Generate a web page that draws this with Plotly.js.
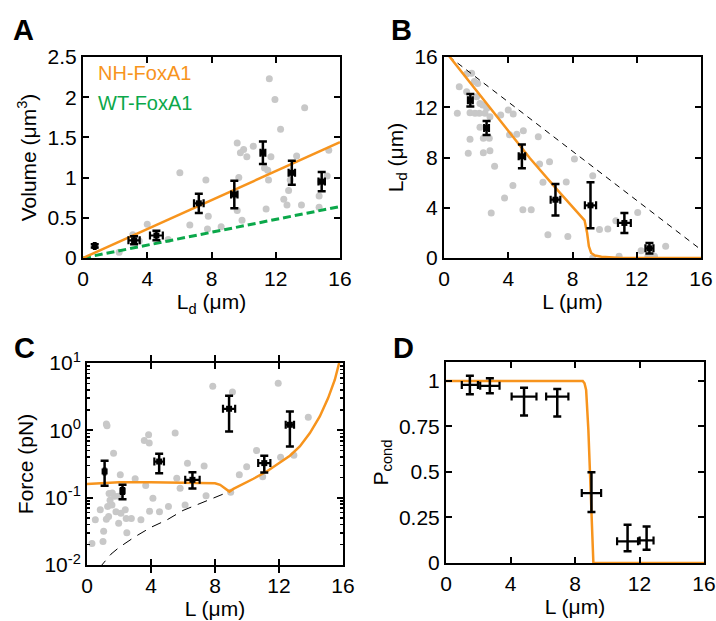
<!DOCTYPE html>
<html><head><meta charset="utf-8">
<script src="https://cdn.plot.ly/plotly-3.0.1.min.js"></script>
<style>html,body{margin:0;padding:0;background:#fff}#chart{width:716px;height:621px}</style>
</head><body><div id="chart"></div>
<script>
// ---------- Panel A: Volume vs Ld ----------
const aGrayX = [11.6, 11.95, 13.8, 12.3, 9.6, 10.0, 10.6, 9.8, 10.2, 11.7, 13.3, 15.3, 6.03, 7.65, 9.7, 11.3, 11.55, 11.4, 12.5, 12.8, 12.7, 13.6, 14.7, 14.7, 14.8, 15.2, 9.6, 7.8, 6.65, 7.75, 8.6, 9.9, 4.0, 3.1, 3.5, 2.25, 5.3, 12.9, 11.5];
const aGrayY = [2.23, 1.97, 1.87, 1.60, 1.43, 1.35, 1.39, 1.31, 1.26, 1.26, 1.27, 1.34, 1.06, 0.97, 1.00, 1.12, 0.97, 0.61, 0.73, 0.84, 0.66, 0.66, 0.63, 0.77, 0.95, 1.02, 0.59, 0.52, 0.41, 0.36, 0.39, 0.47, 0.42, 0.29, 0.21, 0.07, 0.23, 0.97, 1.09];
const aErrX = [0.73, 3.18, 4.57, 7.21, 9.42, 11.2, 13.0, 14.86];
const aErrXe = [0.05, 0.35, 0.4, 0.3, 0.2, 0.15, 0.2, 0.2];
const aErrY = [0.15, 0.22, 0.28, 0.68, 0.79, 1.31, 1.06, 0.95];
const aErrYe = [0.02, 0.05, 0.06, 0.12, 0.17, 0.14, 0.15, 0.12];
const aNHX = [0, 16], aNHY = [0, 1.44];
const aWTX = [0, 16], aWTY = [0, 0.64];

// ---------- Panel B: Ld vs L ----------
const bGrayX = [1.41, 1.72, 1.89, 2.10, 0.95, 1.41, 2.03, 2.24, 2.41, 2.66, 2.55, 0.83, 1.62, 1.93, 2.20, 2.86, 2.24, 3.53, 4.00, 4.31, 1.62, 2.45, 2.82, 4.94, 5.87, 1.51, 2.45, 2.86, 4.53, 3.15, 2.94, 4.08, 3.77, 4.29, 4.91, 5.43, 5.95, 6.16, 6.57, 6.47, 7.61, 7.71, 8.12, 9.26, 9.26, 9.68, 10.2, 10.7, 10.9, 12.06, 12.27, 12.7, 13.1, 13.8];
const bGrayY = [14.65, 14.7, 14.04, 13.9, 13.64, 13.24, 12.84, 12.3, 12.18, 11.92, 11.52, 11.52, 11.57, 11.52, 11.52, 11.25, 10.41, 11.39, 11.78, 11.47, 9.45, 9.53, 9.53, 10.13, 9.66, 8.34, 8.38, 8.54, 9.85, 7.30, 3.58, 9.82, 4.78, 5.78, 3.85, 3.85, 7.48, 6.02, 7.67, 1.86, 6.05, 1.72, 7.88, 6.55, 0.0, 2.26, 2.31, 2.97, 0.13, 3.63, 0.58, 0.13, 0.13, 0.93];
const bErrX = [1.64, 2.65, 4.85, 6.94, 9.12, 11.23, 12.79];
const bErrXe = [0.15, 0.15, 0.2, 0.3, 0.35, 0.4, 0.25];
const bErrY = [12.55, 10.35, 8.09, 4.64, 4.19, 2.79, 0.77];
const bErrYe = [0.5, 0.55, 0.95, 1.25, 1.83, 0.8, 0.42];
const bFitX = [0.3, 2, 4, 5.35, 7, 8.5, 8.75, 8.91, 9.02, 9.16, 9.4, 9.8, 10.4, 11, 16];
const bFitY = [16.1, 13.36, 10.12, 7.94, 5.5, 3.3, 3.0, 1.99, 0.93, 0.40, 0.2, 0.1, 0.04, 0, 0];
const bDashX = [0.3, 16], bDashY = [16.05, 0.66];

// ---------- Panel C: Force vs L ----------
const cGrayX = [1.21, 1.25, 0.31, 0.52, 0.83, 1.04, 1.0, 1.21, 1.29, 1.35, 1.66, 1.73, 1.56, 1.98, 1.81, 2.08, 2.12, 1.98, 2.39, 2.45, 2.49, 2.77, 3.01, 3.37, 3.58, 3.85, 3.89, 4.12, 3.91, 4.53, 5.09, 5.51, 5.61, 6.13, 5.82, 6.28, 7.32, 7.44, 7.86, 9.09, 8.98, 9.52, 9.98, 10.6, 10.98, 11.95, 12.1, 12.93, 13.83, 3.67, 1.38, 1.58, 1.44];
const cGrayY = [1.24, 1.17, 0.0209, 0.0468, 0.0661, 0.0316, 0.0224, 0.0479, 0.0741, 0.0525, 0.458, 0.105, 0.0776, 0.105, 0.0617, 0.219, 0.0589, 0.0417, 0.0661, 0.049, 0.0302, 0.049, 0.191, 0.0468, 0.708, 0.859, 0.646, 0.0977, 0.0631, 0.0617, 0.0741, 0.910, 0.195, 0.0776, 0.138, 0.324, 0.295, 0.107, 4.50, 3.71, 0.120, 0.219, 0.288, 0.501, 0.204, 5.01, 0.398, 0.427, 1.57, 0.151, 0.115, 0.117, 0.0912];
const cErrX = [1.10, 2.22, 4.51, 6.59, 8.88, 11.08, 12.68];
const cErrXe = [0.05, 0.1, 0.3, 0.45, 0.38, 0.38, 0.26];
const cErrY = [0.245, 0.126, 0.344, 0.184, 2.09, 0.326, 1.21];
const cErrYp = [0.107, 0.029, 0.104, 0.055, 1.18, 0.093, 0.70];
const cErrYm = [0.095, 0.031, 0.113, 0.047, 1.13, 0.089, 0.633];
const cFitX = [0, 2, 4, 6, 8, 8.32, 8.63, 8.9, 9.15, 9.56, 10.4, 11.23, 11.85, 12.68, 13.3, 13.93, 14.55, 15.07, 15.49, 15.76];
const cFitY = [0.160, 0.170, 0.170, 0.168, 0.164, 0.155, 0.138, 0.123, 0.135, 0.151, 0.191, 0.245, 0.308, 0.419, 0.577, 0.910, 1.61, 3.01, 5.65, 10.0];
const cDashX = [0.75, 1, 1.5, 2, 3, 4, 5, 6, 7, 8, 9];
const cDashY = [0.0089, 0.0105, 0.0145, 0.0182, 0.0263, 0.0363, 0.0468, 0.0646, 0.0813, 0.102, 0.126];
const cMinorTicks = [0.02,0.03,0.04,0.05,0.06,0.07,0.08,0.09,0.2,0.3,0.4,0.5,0.6,0.7,0.8,0.9,2,3,4,5,6,7,8,9];

// ---------- Panel D: Pcond vs L ----------
const dErrX = [1.48, 2.72, 4.84, 6.9, 9.02, 11.26, 12.44];
const dErrXe = [0.5, 0.6, 0.77, 0.69, 0.6, 0.65, 0.43];
const dErrY = [0.978, 0.973, 0.914, 0.914, 0.384, 0.119, 0.124];
const dErrYp = [0.051, 0.042, 0.049, 0.042, 0.115, 0.091, 0.077];
const dErrYm = [0.051, 0.041, 0.104, 0.11, 0.104, 0.055, 0.051];
const dFitX = [0, 8.48, 8.59, 8.69, 8.83, 8.96, 9.06, 9.14, 16];
const dFitY = [1, 1, 0.987, 0.95, 0.73, 0.457, 0.183, 0, 0];

const ORANGE = '#F7941D', GREEN = '#0BA84A', GRAY = '#C8C8C8';
const FONT = 'Liberation Sans, Arial, Helvetica, sans-serif';
const FS = 21;

function gray(x, y, xa, ya) {
  return {x, y, xaxis: xa, yaxis: ya, type: 'scatter', mode: 'markers',
    marker: {color: GRAY, size: 7, line: {width: 0}}, hoverinfo: 'skip'};
}
function errs(x, y, xe, yp, ym, xa, ya, showMarker) {
  return {x, y, xaxis: xa, yaxis: ya, type: 'scatter', mode: 'markers',
    marker: {color: 'black', symbol: 'square', size: showMarker ? 6 : 1, opacity: showMarker ? 1 : 0},
    error_x: {type: 'data', array: xe, color: 'black', thickness: 2.2, width: 4},
    error_y: {type: 'data', array: yp, arrayminus: ym, symmetric: false, color: 'black', thickness: 2.5, width: 4}};
}
function line(x, y, xa, ya, color, width, dash) {
  return {x, y, xaxis: xa, yaxis: ya, type: 'scatter', mode: 'lines',
    line: {color, width, dash: dash || 'solid'}, hoverinfo: 'skip'};
}

const traces = [
  gray(aGrayX, aGrayY, 'x', 'y'),
  line(aWTX, aWTY, 'x', 'y', GREEN, 3, '8px,4px'),
  line(aNHX, aNHY, 'x', 'y', ORANGE, 2.5),
  errs(aErrX, aErrY, aErrXe, aErrYe, aErrYe, 'x', 'y', true),

  gray(bGrayX, bGrayY, 'x2', 'y2'),
  line(bDashX, bDashY, 'x2', 'y2', 'black', 1, '6px,5px'),
  line(bFitX, bFitY, 'x2', 'y2', ORANGE, 2.5),
  errs(bErrX, bErrY, bErrXe, bErrYe, bErrYe, 'x2', 'y2', true),

  gray(cGrayX, cGrayY, 'x3', 'y3'),
  line(cDashX, cDashY, 'x3', 'y3', 'black', 1, '10px,7px'),
  line(cFitX, cFitY, 'x3', 'y3', ORANGE, 2.5),
  errs(cErrX, cErrY, cErrXe, cErrYp, cErrYm, 'x3', 'y3', true),

  line(dFitX, dFitY, 'x4', 'y4', ORANGE, 2.5),
  errs(dErrX, dErrY, dErrXe, dErrYp, dErrYm, 'x4', 'y4', false)
];

const W = 716, H = 621;
const dx = (a, b) => [a / W, b / W];
const dy = (top, bot) => [1 - bot / H, 1 - top / H];

const baseAxis = {
  showline: true, linecolor: 'black', linewidth: 2, mirror: 'allticks',
  ticks: 'inside', ticklen: 6, tickwidth: 2, tickcolor: 'black',
  showgrid: false, zeroline: false, automargin: false, ticklabeloverflow: 'allow',
  tickfont: {family: FONT, size: FS, color: 'black'}
};
function xax(domain, anchor, title, range, tickvals) {
  return Object.assign({}, baseAxis, {domain, anchor, range, tickmode: 'array', tickvals,
    ticklabelstandoff: 1,
    title: {text: title, font: {family: FONT, size: FS, color: 'black'}, standoff: 2}});
}
function yax(domain, anchor, title, range, tickvals, extra) {
  return Object.assign({}, baseAxis, {domain, anchor, range, tickmode: 'array', tickvals,
    title: {text: title, font: {family: FONT, size: FS, color: 'black'}, standoff: 5}}, extra || {});
}
function label(text, px, py, size, color, xanchor) {
  return {text, x: px / W, y: 1 - py / H, xref: 'paper', yref: 'paper', showarrow: false,
    xanchor: xanchor || 'center', yanchor: 'middle', font: {family: FONT, size, color}};
}

const layout = {
  width: W, height: H, margin: {l: 0, r: 0, t: 0, b: 0},
  paper_bgcolor: 'white', plot_bgcolor: 'white', showlegend: false,
  font: {family: FONT, color: 'black'},
  xaxis: xax(dx(83, 340), 'y', 'L<sub>d</sub> (μm)', [0, 16], [0, 4, 8, 12, 16]),
  yaxis: yax(dy(57, 258), 'x', 'Volume (μm<sup>3</sup>)', [0, 2.5], [0, 0.5, 1, 1.5, 2, 2.5]),
  xaxis2: xax(dx(444, 701), 'y2', 'L (μm)', [0, 16], [0, 4, 8, 12, 16]),
  yaxis2: yax(dy(57, 258), 'x2', 'L<sub>d</sub> (μm)', [0, 16], [0, 4, 8, 12, 16]),
  xaxis3: xax(dx(87, 343), 'y3', 'L (μm)', [0, 16], [0, 4, 8, 12, 16]),
  yaxis3: yax(dy(363, 565), 'x3', 'Force (pN)', [-2, 1], [0.01, 0.1, 1, 10], {
    type: 'log', ticktext: ['10<sup>-2</sup>', '10<sup>-1</sup>', '10<sup>0</sup>', '10<sup>1</sup>']
  }),
  // overlay axis carrying only the minor ticks of the log scale
  yaxis5: {domain: dy(363, 565), anchor: 'x3', overlaying: 'y3', type: 'log', range: [-2, 1],
    tickmode: 'array', tickvals: cMinorTicks, showticklabels: false, ticks: 'inside', ticklen: 3,
    tickwidth: 1.5, tickcolor: 'black', mirror: 'allticks', showline: false, showgrid: false, zeroline: false},
  xaxis4: xax(dx(446, 704), 'y4', 'L (μm)', [0, 16], [0, 4, 8, 12, 16]),
  yaxis4: yax(dy(362, 563), 'x4', 'P<sub>cond</sub>', [0, 1.104], [0, 0.25, 0.5, 0.75, 1]),
  annotations: [
    label('<b>A</b>', 23, 30, 29, 'black'),
    label('<b>B</b>', 401, 30, 29, 'black'),
    label('<b>C</b>', 24, 348, 29, 'black'),
    label('<b>D</b>', 403, 348, 29, 'black'),
    label('NH-FoxA1', 96, 73, 20, ORANGE, 'left'),
    label('WT-FoxA1', 96, 103, 20, GREEN, 'left')
  ]
};

// invisible trace so that the minor-tick overlay axis is drawn
traces.push({x: [1], y: [1], xaxis: 'x3', yaxis: 'y5', type: 'scatter', mode: 'markers',
  marker: {opacity: 0}, hoverinfo: 'skip'});

Plotly.newPlot('chart', traces, layout, {staticPlot: true});
</script>
</body></html>
